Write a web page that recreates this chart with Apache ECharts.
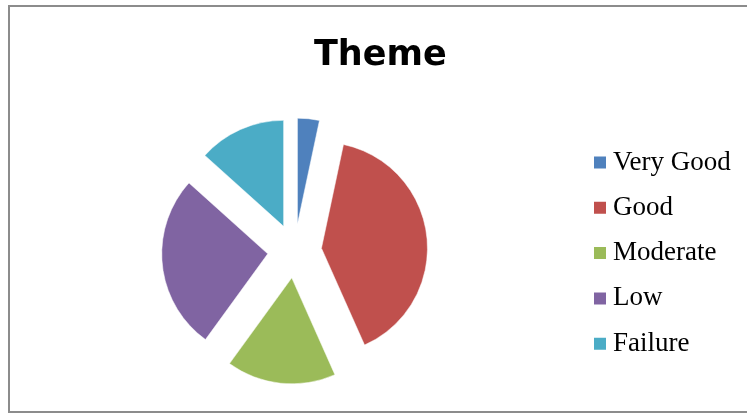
<!DOCTYPE html>
<html>
<head>
<meta charset="utf-8">
<script src="https://cdn.jsdelivr.net/npm/echarts@6/dist/echarts.min.js"></script>
<style>html,body{margin:0;padding:0;background:#fff}#c{width:747px;height:414px}</style>
</head>
<body>
<div id="c"></div>
<script>
var categories = ['Very Good', 'Good', 'Moderate', 'Low', 'Failure'];
var values = [1, 12, 5, 8, 4];
var colors = ['#4f81bd', '#c0504d', '#9bbb59', '#8064a2', '#4bacc6'];

var chart = echarts.init(document.getElementById('c'), null, {renderer: 'canvas'});
chart.setOption({
  backgroundColor: '#ffffff',
  animation: false,
  title: {
    text: 'Theme',
    left: 314, top: 38, padding: 0,
    textStyle: {fontFamily: 'DejaVu Sans', fontWeight: 'bold', fontSize: 35, color: '#000'}
  },
  legend: {
    orient: 'vertical',
    left: 592, top: 149, padding: 0,
    icon: 'rect',
    itemWidth: 14, itemHeight: 14,
    itemGap: 18.3,
    selectedMode: false,
    data: categories,
    textStyle: {fontFamily: 'Liberation Serif', fontSize: 27, lineHeight: 27, color: '#000', padding: [0,0,0,1]}
  },
  graphic: [{
    type: 'rect', silent: true, z: -1,
    shape: {x: 9, y: 6, width: 760, height: 406},
    style: {fill: 'none', stroke: '#8c8c8c', lineWidth: 2}
  }],
  series: [{
    type: 'pie',
    center: [294.6, 251],
    radius: 106,
    startAngle: 90,
    clockwise: true,
    selectedMode: 'multiple',
    selectedOffset: 27,
    label: {show: false},
    labelLine: {show: false},
    emphasis: {disabled: true},
    itemStyle: {borderColor: '#fff', borderWidth: 0.5},
    data: categories.map(function (n, i) {
      return {name: n, value: values[i], selected: true, itemStyle: {color: colors[i]}};
    })
  }]
});
</script>
</body>
</html>
